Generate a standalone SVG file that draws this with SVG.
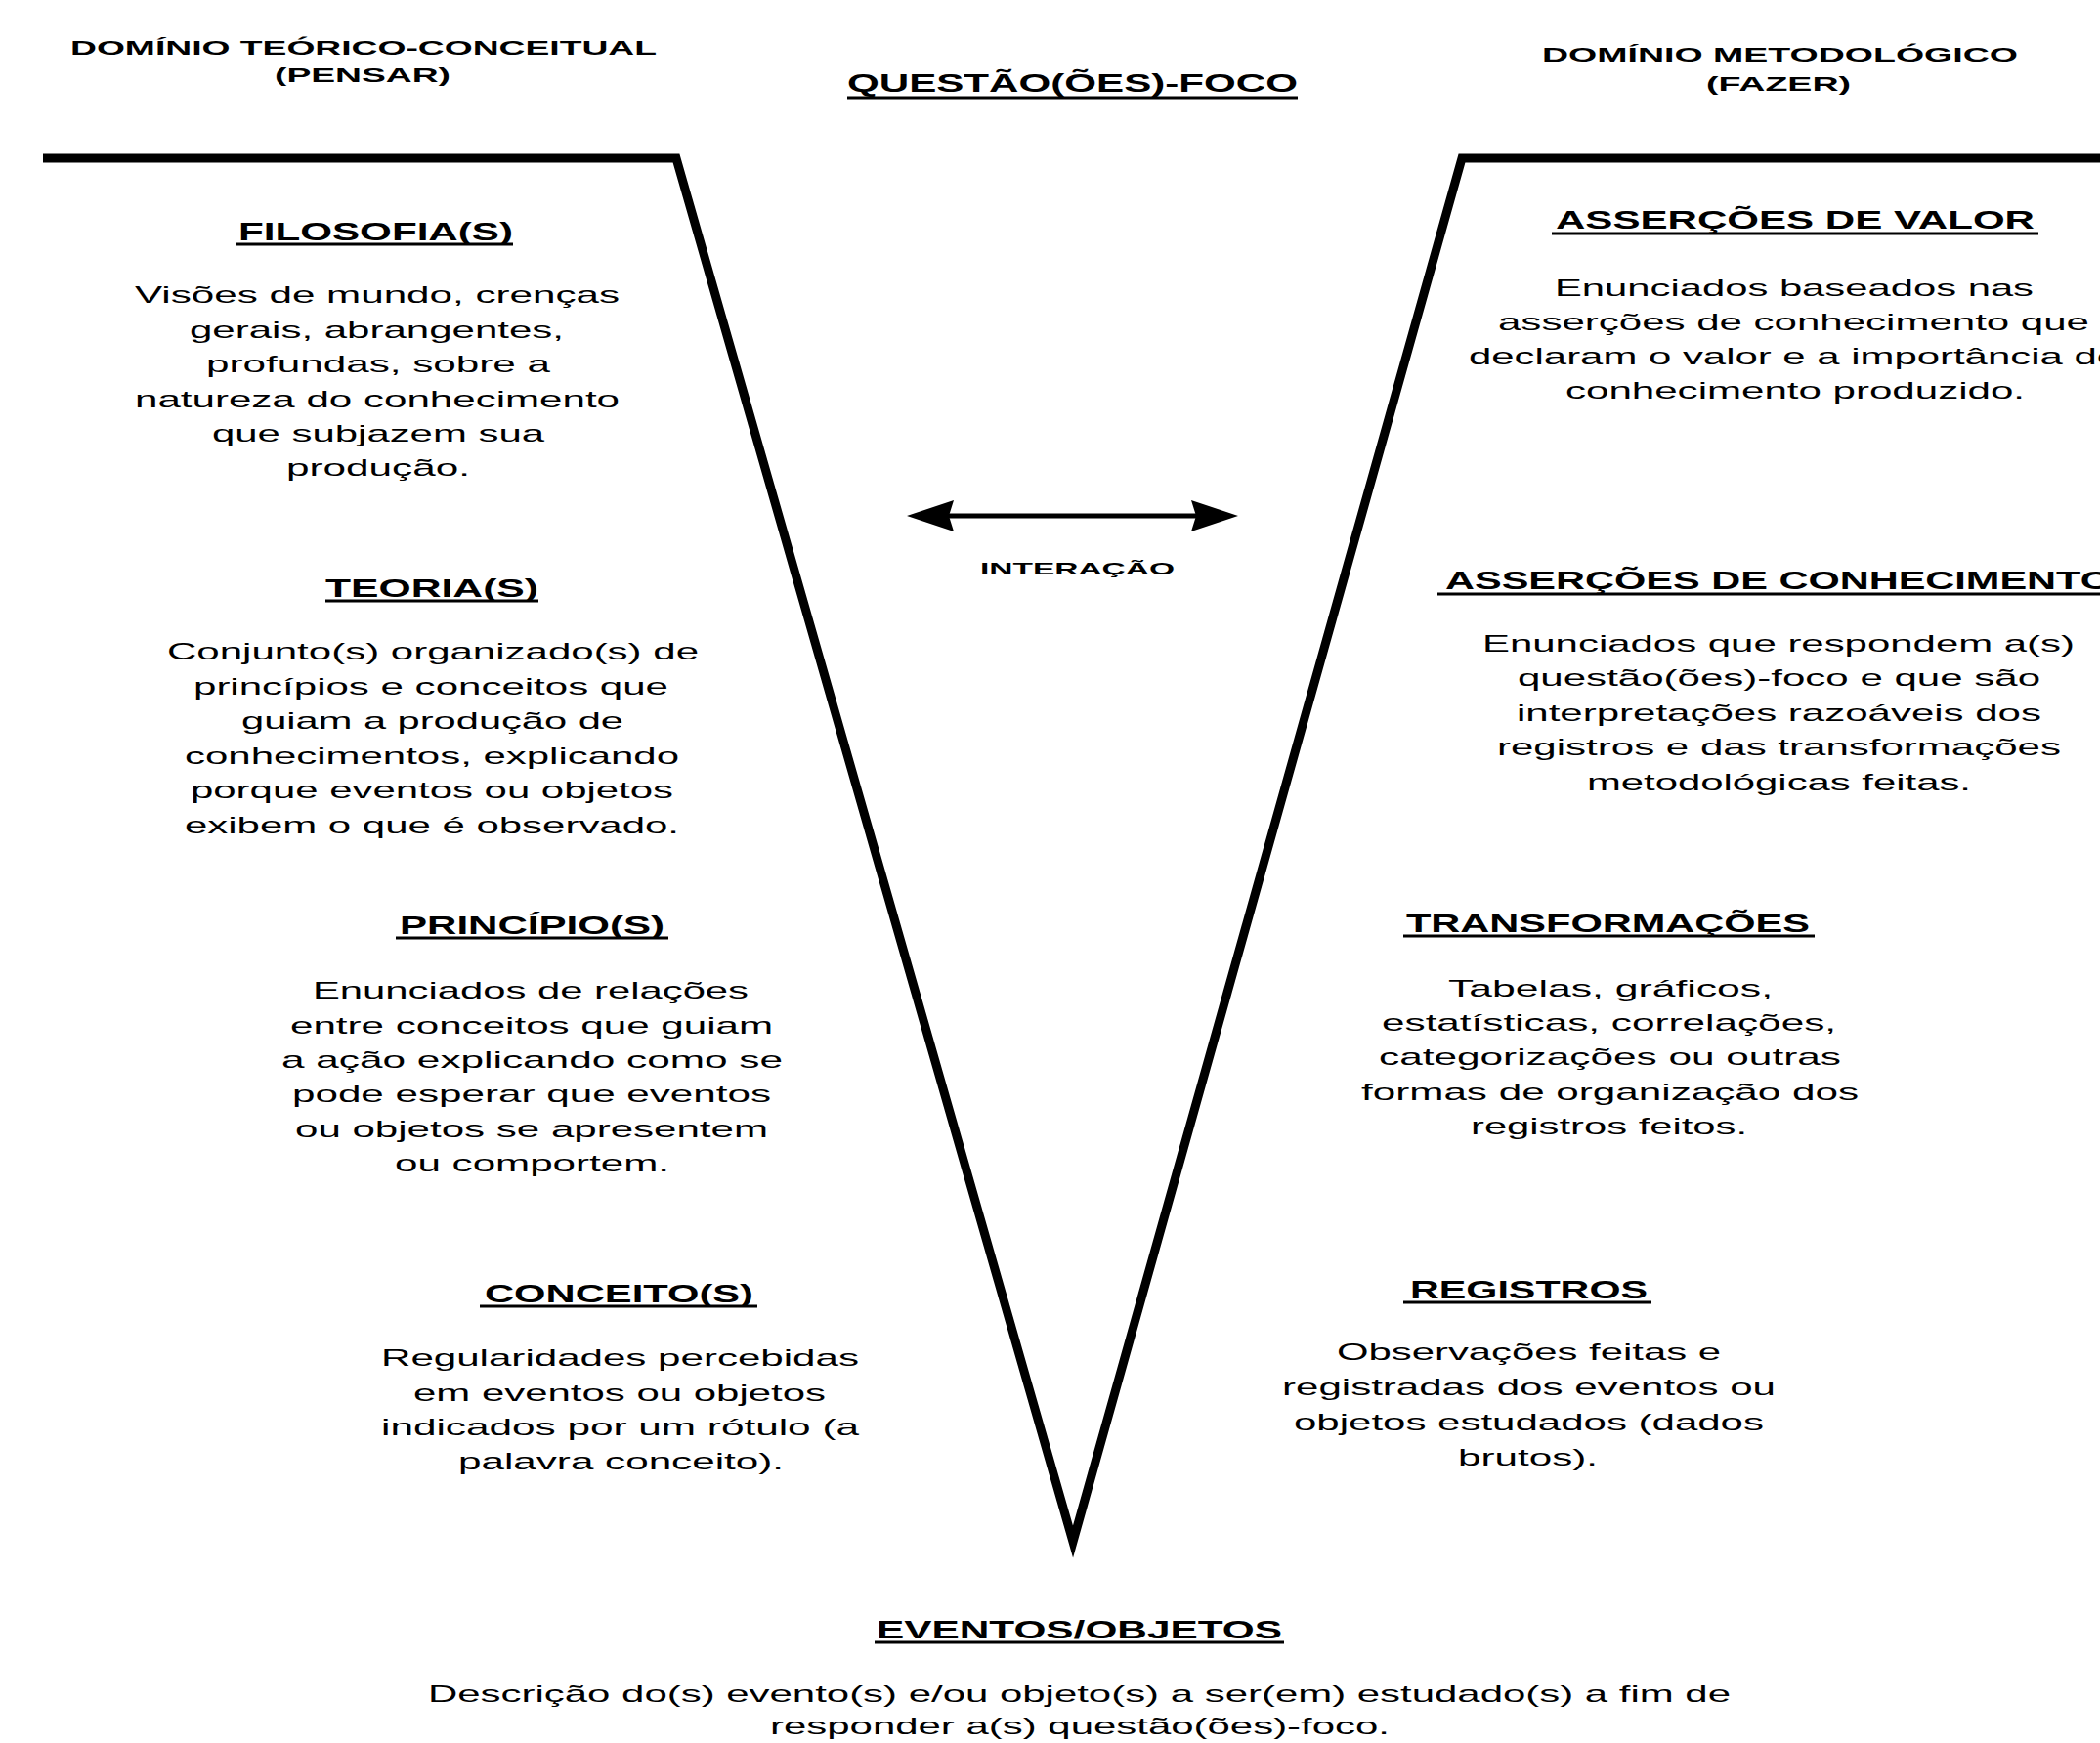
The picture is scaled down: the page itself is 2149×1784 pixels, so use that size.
<svg xmlns="http://www.w3.org/2000/svg" width="2149" height="1784" viewBox="0 0 2149 1784">
<style>
text { font-family: "Liberation Sans", Arial, sans-serif; fill: #000; }
.h { font-weight: bold; font-size: 25px; }
.d { font-weight: bold; font-size: 21px; }
.q { font-weight: bold; font-size: 26px; }
.s { font-weight: bold; font-size: 17px; }
.b { font-size: 24px; }
.u { stroke: #000; stroke-width: 3; }
.frame { fill: none; stroke: #000; stroke-width: 9; stroke-linejoin: miter; stroke-miterlimit: 10; }
</style>
<defs>
<marker id="head" markerUnits="userSpaceOnUse" viewBox="0 0 48 32" markerWidth="48" markerHeight="32" refX="36" refY="16" orient="auto-start-reverse">
<path d="M0,0 L48,16 L0,32 L5,16 z" fill="#000"/>
</marker>
</defs>
<rect width="2149" height="1784" fill="#fff"/>

<g id="frame">
<path class="frame" d="M44,162 H692 L1098,1578 L1496,162 H2149"/>
</g>

<g id="headers">
<text class="d" x="72" y="56" textLength="600" lengthAdjust="spacingAndGlyphs">DOMÍNIO TEÓRICO-CONCEITUAL</text>
<text class="d" x="281" y="84" textLength="180" lengthAdjust="spacingAndGlyphs">(PENSAR)</text>
<text class="d" x="1578" y="63" textLength="487" lengthAdjust="spacingAndGlyphs">DOMÍNIO METODOLÓGICO</text>
<text class="d" x="1746" y="93" textLength="148" lengthAdjust="spacingAndGlyphs">(FAZER)</text>
</g>

<g id="questao">
<text class="q" x="867" y="94" textLength="461" lengthAdjust="spacingAndGlyphs">QUESTÃO(ÕES)-FOCO</text>
<line class="u" x1="867" y1="100" x2="1328" y2="100"/>
</g>

<g id="connectors">
<line x1="940" y1="528" x2="1255" y2="528" stroke="#000" stroke-width="5" marker-start="url(#head)" marker-end="url(#head)"/>
<text class="s" x="1003" y="588" textLength="199" lengthAdjust="spacingAndGlyphs">INTERAÇÃO</text>
</g>

<g id="filosofia">
<text class="h" x="244" y="246" textLength="281" lengthAdjust="spacingAndGlyphs">FILOSOFIA(S)</text>
<line class="u" x1="242" y1="250" x2="525" y2="250"/>
<text class="b" x="138" y="310" textLength="496" lengthAdjust="spacingAndGlyphs">Visões de mundo, crenças</text>
<text class="b" x="194" y="346" textLength="383" lengthAdjust="spacingAndGlyphs">gerais, abrangentes,</text>
<text class="b" x="211" y="381" textLength="352" lengthAdjust="spacingAndGlyphs">profundas, sobre a</text>
<text class="b" x="138" y="417" textLength="496" lengthAdjust="spacingAndGlyphs">natureza do conhecimento</text>
<text class="b" x="217" y="452" textLength="340" lengthAdjust="spacingAndGlyphs">que subjazem sua</text>
<text class="b" x="293" y="487" textLength="188" lengthAdjust="spacingAndGlyphs">produção.</text>
</g>

<g id="teoria">
<text class="h" x="333" y="611" textLength="218" lengthAdjust="spacingAndGlyphs">TEORIA(S)</text>
<line class="u" x1="333" y1="615" x2="551" y2="615"/>
<text class="b" x="171" y="675" textLength="544" lengthAdjust="spacingAndGlyphs">Conjunto(s) organizado(s) de</text>
<text class="b" x="198" y="711" textLength="486" lengthAdjust="spacingAndGlyphs">princípios e conceitos que</text>
<text class="b" x="247" y="746" textLength="391" lengthAdjust="spacingAndGlyphs">guiam a produção de</text>
<text class="b" x="189" y="782" textLength="506" lengthAdjust="spacingAndGlyphs">conhecimentos, explicando</text>
<text class="b" x="195" y="817" textLength="494" lengthAdjust="spacingAndGlyphs">porque eventos ou objetos</text>
<text class="b" x="189" y="853" textLength="506" lengthAdjust="spacingAndGlyphs">exibem o que é observado.</text>
</g>

<g id="principio">
<text class="h" x="409" y="956" textLength="271" lengthAdjust="spacingAndGlyphs">PRINCÍPIO(S)</text>
<line class="u" x1="405" y1="960" x2="684" y2="960"/>
<text class="b" x="320" y="1022" textLength="446" lengthAdjust="spacingAndGlyphs">Enunciados de relações</text>
<text class="b" x="297" y="1058" textLength="494" lengthAdjust="spacingAndGlyphs">entre conceitos que guiam</text>
<text class="b" x="288" y="1093" textLength="513" lengthAdjust="spacingAndGlyphs">a ação explicando como se</text>
<text class="b" x="299" y="1128" textLength="490" lengthAdjust="spacingAndGlyphs">pode esperar que eventos</text>
<text class="b" x="302" y="1164" textLength="484" lengthAdjust="spacingAndGlyphs">ou objetos se apresentem</text>
<text class="b" x="404" y="1199" textLength="281" lengthAdjust="spacingAndGlyphs">ou comportem.</text>
</g>

<g id="conceito">
<text class="h" x="496" y="1333" textLength="275" lengthAdjust="spacingAndGlyphs">CONCEITO(S)</text>
<line class="u" x1="491" y1="1337" x2="775" y2="1337"/>
<text class="b" x="390" y="1398" textLength="489" lengthAdjust="spacingAndGlyphs">Regularidades percebidas</text>
<text class="b" x="423" y="1434" textLength="422" lengthAdjust="spacingAndGlyphs">em eventos ou objetos</text>
<text class="b" x="390" y="1469" textLength="489" lengthAdjust="spacingAndGlyphs">indicados por um rótulo (a</text>
<text class="b" x="469" y="1504" textLength="333" lengthAdjust="spacingAndGlyphs">palavra conceito).</text>
</g>

<g id="assercoes-valor">
<text class="h" x="1592" y="234" textLength="490" lengthAdjust="spacingAndGlyphs">ASSERÇÕES DE VALOR</text>
<line class="u" x1="1588" y1="239" x2="2086" y2="239"/>
<text class="b" x="1591" y="303" textLength="490" lengthAdjust="spacingAndGlyphs">Enunciados baseados nas</text>
<text class="b" x="1533" y="338" textLength="605" lengthAdjust="spacingAndGlyphs">asserções de conhecimento que</text>
<text class="b" x="1503" y="373" textLength="666" lengthAdjust="spacingAndGlyphs">declaram o valor e a importância do</text>
<text class="b" x="1602" y="408" textLength="470" lengthAdjust="spacingAndGlyphs">conhecimento produzido.</text>
</g>

<g id="assercoes-conhecimento">
<text class="h" x="1479" y="603" textLength="682" lengthAdjust="spacingAndGlyphs">ASSERÇÕES DE CONHECIMENTO</text>
<line class="u" x1="1471" y1="608" x2="2149" y2="608"/>
<text class="b" x="1517" y="667" textLength="606" lengthAdjust="spacingAndGlyphs">Enunciados que respondem a(s)</text>
<text class="b" x="1553" y="702" textLength="535" lengthAdjust="spacingAndGlyphs">questão(ões)-foco e que são</text>
<text class="b" x="1552" y="738" textLength="537" lengthAdjust="spacingAndGlyphs">interpretações razoáveis dos</text>
<text class="b" x="1532" y="773" textLength="577" lengthAdjust="spacingAndGlyphs">registros e das transformações</text>
<text class="b" x="1624" y="809" textLength="393" lengthAdjust="spacingAndGlyphs">metodológicas feitas.</text>
</g>

<g id="transformacoes">
<text class="h" x="1439" y="954" textLength="413" lengthAdjust="spacingAndGlyphs">TRANSFORMAÇÕES</text>
<line class="u" x1="1436" y1="958" x2="1857" y2="958"/>
<text class="b" x="1482" y="1020" textLength="332" lengthAdjust="spacingAndGlyphs">Tabelas, gráficos,</text>
<text class="b" x="1414" y="1055" textLength="465" lengthAdjust="spacingAndGlyphs">estatísticas, correlações,</text>
<text class="b" x="1411" y="1090" textLength="473" lengthAdjust="spacingAndGlyphs">categorizações ou outras</text>
<text class="b" x="1393" y="1126" textLength="509" lengthAdjust="spacingAndGlyphs">formas de organização dos</text>
<text class="b" x="1505" y="1161" textLength="283" lengthAdjust="spacingAndGlyphs">registros feitos.</text>
</g>

<g id="registros">
<text class="h" x="1443" y="1329" textLength="243" lengthAdjust="spacingAndGlyphs">REGISTROS</text>
<line class="u" x1="1436" y1="1333" x2="1690" y2="1333"/>
<text class="b" x="1368" y="1392" textLength="393" lengthAdjust="spacingAndGlyphs">Observações feitas e</text>
<text class="b" x="1312" y="1428" textLength="505" lengthAdjust="spacingAndGlyphs">registradas dos eventos ou</text>
<text class="b" x="1324" y="1464" textLength="481" lengthAdjust="spacingAndGlyphs">objetos estudados (dados</text>
<text class="b" x="1492" y="1500" textLength="143" lengthAdjust="spacingAndGlyphs">brutos).</text>
</g>

<g id="eventos">
<text class="h" x="897" y="1677" textLength="415" lengthAdjust="spacingAndGlyphs">EVENTOS/OBJETOS</text>
<line class="u" x1="895" y1="1681" x2="1314" y2="1681"/>
<text class="b" x="438" y="1742" textLength="1333" lengthAdjust="spacingAndGlyphs">Descrição do(s) evento(s) e/ou objeto(s) a ser(em) estudado(s) a fim de</text>
<text class="b" x="788" y="1775" textLength="634" lengthAdjust="spacingAndGlyphs">responder a(s) questão(ões)-foco.</text>
</g>
</svg>
